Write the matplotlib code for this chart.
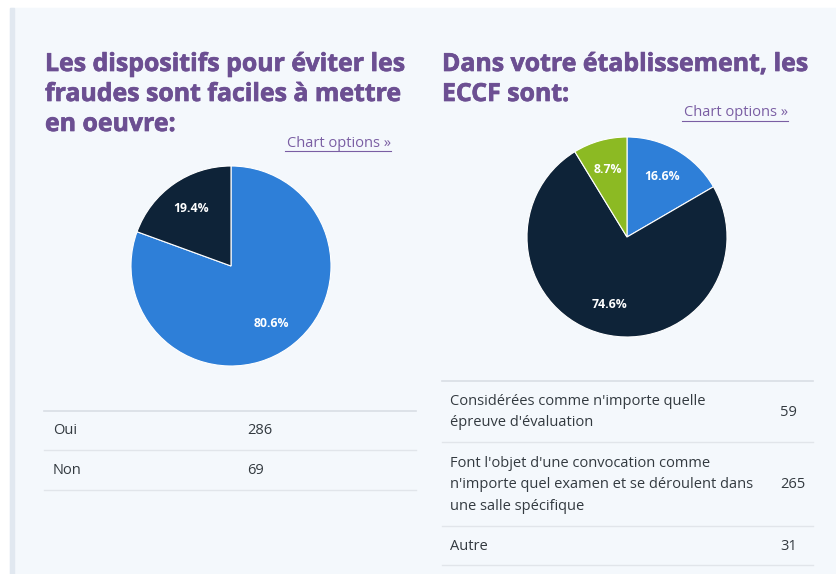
import matplotlib
matplotlib.use("Agg")
import matplotlib.pyplot as plt
import matplotlib.patheffects as pe
from matplotlib.patches import Rectangle

plt.rcParams['font.family'] = ['Open Sans', 'DejaVu Sans']

# données
titre_gauche = ["Les dispositifs pour éviter les",
                "fraudes sont faciles à mettre",
                "en oeuvre:"]
labels_gauche = ["Oui", "Non"]
valeurs_gauche = [286, 69]

titre_droite = ["Dans votre établissement, les", "ECCF sont:"]
labels_droite = [
    "Considérées comme n'importe quelle\népreuve d'évaluation",
    "Font l'objet d'une convocation comme\nn'importe quel examen et se déroulent dans\nune salle spécifique",
    "Autre",
]
valeurs_droite = [59, 265, 31]

BLEU = "#2e7fd8"
MARINE = "#0e2338"
VERT = "#8cba23"
couleurs_gauche = [BLEU, MARINE]
couleurs_droite = [BLEU, MARINE, VERT]
VIOLET = "#6c4f92"
LIEN = "#7a5ea3"
TEXTE = "#333a40"
LIGNE = "#e1e5ea"

W, H = 837, 574
fig = plt.figure(figsize=(W / 100, H / 100), dpi=100, facecolor="white")


def px(x, y):
    return x / W, 1 - y / H


# fond du panneau
fig.patches.append(Rectangle(px(10, 574), (W - 10) / W, 566 / H,
                             transform=fig.transFigure, color="#f4f8fc", zorder=-2))
fig.patches.append(Rectangle(px(10, 574), 4 / W, 566 / H,
                             transform=fig.transFigure, color="#e1e8f0", zorder=-1))


def camembert(cx, cy, r, valeurs, couleurs):
    x0, y0 = px(cx - r, cy + r)
    ax = fig.add_axes([x0, y0, 2 * r / W, 2 * r / H], zorder=2)
    ax.pie(valeurs, colors=couleurs, startangle=90, counterclock=False,
           autopct="%1.1f%%", pctdistance=0.7,
           wedgeprops=dict(edgecolor="white", linewidth=0.8),
           textprops=dict(color="white", fontsize=8.8, fontweight="bold"))
    ax.set_xlim(-1.01, 1.01)
    ax.set_ylim(-1.01, 1.01)
    ax.axis("off")


def ligne(x1, x2, y, lw=1.0, c=LIGNE):
    fig.add_artist(plt.Line2D([x1 / W, x2 / W], [1 - y / H, 1 - y / H],
                              transform=fig.transFigure, color=c, linewidth=lw))


def lien(x, y):
    fig.text(*px(x, y), "Chart options »", color=LIEN, fontsize=10.5,
             ha="right", va="center")
    ligne(x - 106, x, y + 8, lw=0.8, c=LIEN)


def titre(x, lignes):
    # gras renforcé par un léger contour
    for i, t in enumerate(lignes):
        fig.text(*px(x, 71 + 30 * i), t, color=VIOLET, fontsize=17.9,
                 fontweight="bold", ha="left", va="baseline",
                 path_effects=[pe.withStroke(linewidth=0.5, foreground=VIOLET)])


# panneau gauche
titre(45, titre_gauche)
lien(391, 143)
camembert(231, 266, 101, valeurs_gauche, couleurs_gauche)

ligne(44, 416, 411, lw=1.2, c="#d9dee4")
ys = [431, 470]
for lab, val, y in zip(labels_gauche, valeurs_gauche, ys):
    fig.text(*px(53, y), lab, color=TEXTE, fontsize=10.5, va="center")
    fig.text(*px(247, y), str(val), color=TEXTE, fontsize=10.5, va="center")
ligne(44, 416, 450)
ligne(44, 416, 490)

# panneau droit
titre(442, titre_droite)
lien(788, 113)
camembert(627, 237, 101, valeurs_droite, couleurs_droite)

ligne(442, 813, 381, lw=1.2, c="#d9dee4")
centres = [412, 485, 546]
for lab, val, y in zip(labels_droite, valeurs_droite, centres):
    fig.text(*px(450, y), lab, color=TEXTE, fontsize=10.5, va="center",
             linespacing=1.55)
    fig.text(*px(780, y), str(val), color=TEXTE, fontsize=10.5, va="center")
for y in [442, 526, 565]:
    ligne(442, 813, y)

fig.savefig("out.png", dpi=100, facecolor="white")
